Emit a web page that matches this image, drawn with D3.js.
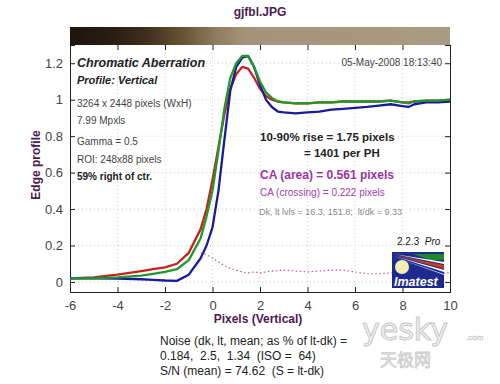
<!DOCTYPE html>
<html>
<head>
<meta charset="utf-8">
<script src="https://cdn.jsdelivr.net/npm/d3@7"></script>
<style>
  body { margin: 0; background: #fff; }
  svg { font-family: "Liberation Sans", Arial, sans-serif; }
  text { white-space: pre; }
</style>
</head>
<body>
<svg id="chart" width="500" height="384"></svg>
<script>
// data
var xs = [-6, -5, -4, -3, -2.5, -2, -1.5, -1, -0.5, -0.25, 0, 0.25, 0.5, 0.75, 1, 1.25, 1.5, 1.75, 2, 2.25, 2.5, 2.75, 3, 3.5, 4, 4.5, 5, 5.5, 6, 6.5, 7, 7.5, 8, 8.25, 8.5, 9, 9.5, 10];
var redVals = [0.02, 0.025, 0.04, 0.06, 0.07, 0.08, 0.1, 0.16, 0.29, 0.4, 0.56, 0.74, 0.92, 1.06, 1.14, 1.18, 1.17, 1.12, 1.06, 1.02, 1.0, 0.99, 0.985, 0.98, 0.98, 0.985, 0.985, 0.99, 0.99, 0.99, 0.99, 0.995, 0.985, 0.985, 0.99, 0.995, 0.995, 1.0];
var greenVals = [0.02, 0.02, 0.025, 0.035, 0.045, 0.055, 0.07, 0.12, 0.24, 0.36, 0.5, 0.72, 0.95, 1.12, 1.2, 1.24, 1.24, 1.18, 1.1, 1.04, 1.01, 0.99, 0.985, 0.98, 0.98, 0.985, 0.985, 0.99, 0.99, 0.99, 0.99, 0.995, 0.985, 0.98, 0.99, 0.995, 0.995, 1.0];
var blueVals = [0.02, 0.02, 0.018, 0.015, 0.012, 0.008, 0.006, 0.04, 0.13, 0.2, 0.3, 0.5, 0.78, 1.05, 1.18, 1.23, 1.24, 1.18, 1.08, 1.0, 0.96, 0.935, 0.93, 0.925, 0.93, 0.935, 0.945, 0.95, 0.955, 0.96, 0.967, 0.975, 0.965, 0.96, 0.975, 0.985, 0.985, 0.99];
var caXs = [-0.5, -0.25, 0, 0.25, 0.5, 0.75, 1, 1.25, 1.5, 1.75, 2, 2.5, 3, 3.5, 4, 4.5, 5, 5.5, 6, 6.5, 7, 7.5, 8, 8.5, 9, 9.5, 10];
var caVals = [0.16, 0.15, 0.13, 0.11, 0.09, 0.075, 0.065, 0.055, 0.05, 0.055, 0.05, 0.06, 0.065, 0.06, 0.055, 0.06, 0.065, 0.065, 0.055, 0.045, 0.045, 0.05, 0.05, 0.055, 0.05, 0.05, 0.05];
var xTicks = [-6, -4, -2, 0, 2, 4, 6, 8, 10];
var yTicks = [0, 0.2, 0.4, 0.6, 0.8, 1, 1.2];

var svg = d3.select("#chart");
var purple = "#4d1a4f";

var x = d3.scaleLinear().domain([-6, 10]).range([70, 450]);
var y = d3.scaleLinear().domain([-0.055, 1.3]).range([292, 45]);

// watermark (drawn first, sits behind everything)
svg.append("text").attr("x", 362).attr("y", 340).attr("font-size", 30).attr("font-family", "DejaVu Sans")
  .attr("fill", "#f2f2f2").attr("stroke", "#c8c8c8").attr("stroke-width", 1).text("yesky");
svg.append("text").attr("x", 466).attr("y", 340).attr("font-size", 8).attr("fill", "#e4e4e4")
  .attr("stroke", "#c8c8c8").attr("stroke-width", 0.4).text(".com");
svg.append("text").attr("x", 380).attr("y", 366).attr("font-size", 17).attr("font-family", "Noto Sans CJK SC")
  .attr("fill", "#efefef").attr("stroke", "#cccccc").attr("stroke-width", 0.8).text("天极网");

// title
svg.append("text").attr("x", 260).attr("y", 16).attr("text-anchor", "middle")
  .attr("font-size", 12).attr("font-weight", "bold").attr("fill", purple).text("gjfbl.JPG");

// edge image strip
var grad = svg.append("defs").append("linearGradient").attr("id", "strip");
[[0, "#1d150e"], [0.1, "#271c12"], [0.2, "#3e2e1c"], [0.3, "#6a5434"], [0.38, "#8e7a5c"], [0.46, "#a4937a"], [1, "#a99b81"]]
  .forEach(function(s){ grad.append("stop").attr("offset", s[0]).attr("stop-color", s[1]); });
svg.append("rect").attr("x", x(-6)).attr("y", 27).attr("width", x(10) - x(-6)).attr("height", 18)
  .attr("fill", "url(#strip)");

// grid
var g = svg.append("g");
g.selectAll(".gx").data(xTicks.slice(1, -1)).enter().append("line")
  .attr("x1", function(d){ return x(d); }).attr("x2", function(d){ return x(d); })
  .attr("y1", 45).attr("y2", 292)
  .attr("stroke", "#cfcfcf").attr("stroke-dasharray", "1,3");
g.selectAll(".gy").data(yTicks).enter().append("line")
  .attr("y1", function(d){ return y(d); }).attr("y2", function(d){ return y(d); })
  .attr("x1", 70).attr("x2", 450)
  .attr("stroke", "#cfcfcf").attr("stroke-dasharray", "1,3");

// axes, ticks pointing inward
var fmt = function(d){ return String(+d.toFixed(1)); };
var axL = svg.append("g").attr("transform", "translate(70,0)")
  .call(d3.axisLeft(y).tickValues(yTicks).tickSize(-5).tickPadding(7).tickFormat(fmt));
var axB = svg.append("g").attr("transform", "translate(0,292)")
  .call(d3.axisBottom(x).tickValues(xTicks).tickSize(-5).tickPadding(9).tickFormat(fmt));
var axR = svg.append("g").attr("transform", "translate(450,0)")
  .call(d3.axisRight(y).tickValues(yTicks).tickSize(-5).tickFormat(""));
var axT = svg.append("g").attr("transform", "translate(0,45)")
  .call(d3.axisTop(x).tickValues(xTicks).tickSize(-5).tickFormat(""));
[axL, axB, axR, axT].forEach(function(a){
  a.select(".domain").attr("stroke", "#222");
  a.selectAll(".tick line").attr("stroke", "#222");
  a.selectAll("text").attr("font-size", 13).attr("fill", "#444")
    .attr("font-family", "Liberation Sans, Arial, sans-serif");
});
axT.select(".domain").remove();

// axis labels
svg.append("text").attr("transform", "translate(40,165) rotate(-90)").attr("text-anchor", "middle")
  .attr("font-size", 12).attr("font-weight", "bold").attr("fill", purple).text("Edge profile");
svg.append("text").attr("x", 258).attr("y", 323).attr("text-anchor", "middle")
  .attr("font-size", 12).attr("font-weight", "bold").attr("fill", purple).text("Pixels (Vertical)");

// curves
var line = d3.line().x(function(d){ return x(d[0]); }).y(function(d){ return y(d[1]); });
function series(vals, color){
  svg.append("path").datum(xs.map(function(v, i){ return [v, vals[i]]; }))
    .attr("d", line).attr("fill", "none").attr("stroke", color).attr("stroke-width", 2.3)
    .attr("stroke-linejoin", "round");
}
series(redVals, "#c8201e");
series(blueVals, "#1b1a9c");
series(greenVals, "#1f9a2a");
svg.append("path").datum(caXs.map(function(v, i){ return [v, caVals[i]]; }))
  .attr("d", line).attr("fill", "none").attr("stroke", "#c050c0").attr("stroke-width", 1.2)
  .attr("stroke-dasharray", "1.5,2.5");

// text block, left
var txt = svg.append("g").attr("fill", "#333");
txt.append("text").attr("x", 77).attr("y", 67).attr("font-size", 12.5).attr("font-weight", "bold")
  .attr("font-style", "italic").attr("fill", "#222").text("Chromatic Aberration");
txt.append("text").attr("x", 77).attr("y", 84).attr("font-size", 11).attr("font-weight", "bold")
  .attr("font-style", "italic").attr("fill", "#222").text("Profile: Vertical");
[["3264 x 2448 pixels (WxH)", 107], ["7.99 Mpxls", 124], ["Gamma = 0.5", 145], ["ROI: 248x88 pixels", 163]]
  .forEach(function(t){
    txt.append("text").attr("x", 77).attr("y", t[1]).attr("font-size", 10).attr("fill", "#444").text(t[0]);
  });
txt.append("text").attr("x", 77).attr("y", 180).attr("font-size", 10).attr("font-weight", "bold")
  .attr("fill", "#222").text("59% right of ctr.");

// text block, right
svg.append("text").attr("x", 442).attr("y", 66).attr("text-anchor", "end").attr("font-size", 10)
  .attr("fill", "#444").text("05-May-2008 18:13:40");
svg.append("text").attr("x", 260).attr("y", 141).attr("font-size", 11.5).attr("font-weight", "bold")
  .attr("fill", "#222").text("10-90% rise = 1.75 pixels");
svg.append("text").attr("x", 304).attr("y", 157).attr("font-size", 11.5).attr("font-weight", "bold")
  .attr("fill", "#222").text("= 1401 per PH");
svg.append("text").attr("x", 260).attr("y", 179).attr("font-size", 12).attr("font-weight", "bold")
  .attr("fill", "#a032aa").text("CA (area) = 0.561 pixels");
svg.append("text").attr("x", 260).attr("y", 196).attr("font-size", 10)
  .attr("fill", "#a040b0").text("CA (crossing) = 0.222 pixels");
svg.append("text").attr("x", 259).attr("y", 215).attr("font-size", 9)
  .attr("fill", "#8a8a8a").text("Dk, lt lvls = 16.3, 151.8;  lt/dk = 9.33");

// version + logo
var ver = svg.append("text").attr("x", 397).attr("y", 245).attr("font-size", 10).attr("fill", "#222");
ver.append("tspan").text("2.2.3  ");
ver.append("tspan").attr("font-style", "italic").text("Pro");
var logo = svg.append("g");
logo.append("rect").attr("x", 392).attr("y", 252).attr("width", 52).attr("height", 36).attr("fill", "#1e2a8e");
logo.append("polygon").attr("points", "413,254 444,254 444,260 430,260").attr("fill", "#1d8a2a");
logo.append("polygon").attr("points", "394,254 444,262 444,264").attr("fill", "#ffffff");
logo.append("polygon").attr("points", "394,255 444,265 444,269").attr("fill", "#c83a20");
logo.append("polygon").attr("points", "394,256 444,270 444,272").attr("fill", "#ffffff");
logo.append("polygon").attr("points", "394,257 444,274 444,275").attr("fill", "#c8c8ff");
logo.append("circle").attr("cx", 402).attr("cy", 267).attr("r", 7).attr("fill", "#f2efb4");
logo.append("text").attr("x", 394).attr("y", 286).attr("font-size", 12.5).attr("font-weight", "bold")
  .attr("font-style", "italic").attr("fill", "#fff").text("Imatest");

// noise summary
[["Noise (dk, lt, mean; as % of lt-dk) =", 345], ["0.184,  2.5,  1.34  (ISO =  64)", 360], ["S/N (mean) = 74.62  (S = lt-dk)", 375]]
  .forEach(function(t){
    svg.append("text").attr("x", 160).attr("y", t[1]).attr("font-size", 12).attr("fill", "#222").text(t[0]);
  });
</script>
</body>
</html>
